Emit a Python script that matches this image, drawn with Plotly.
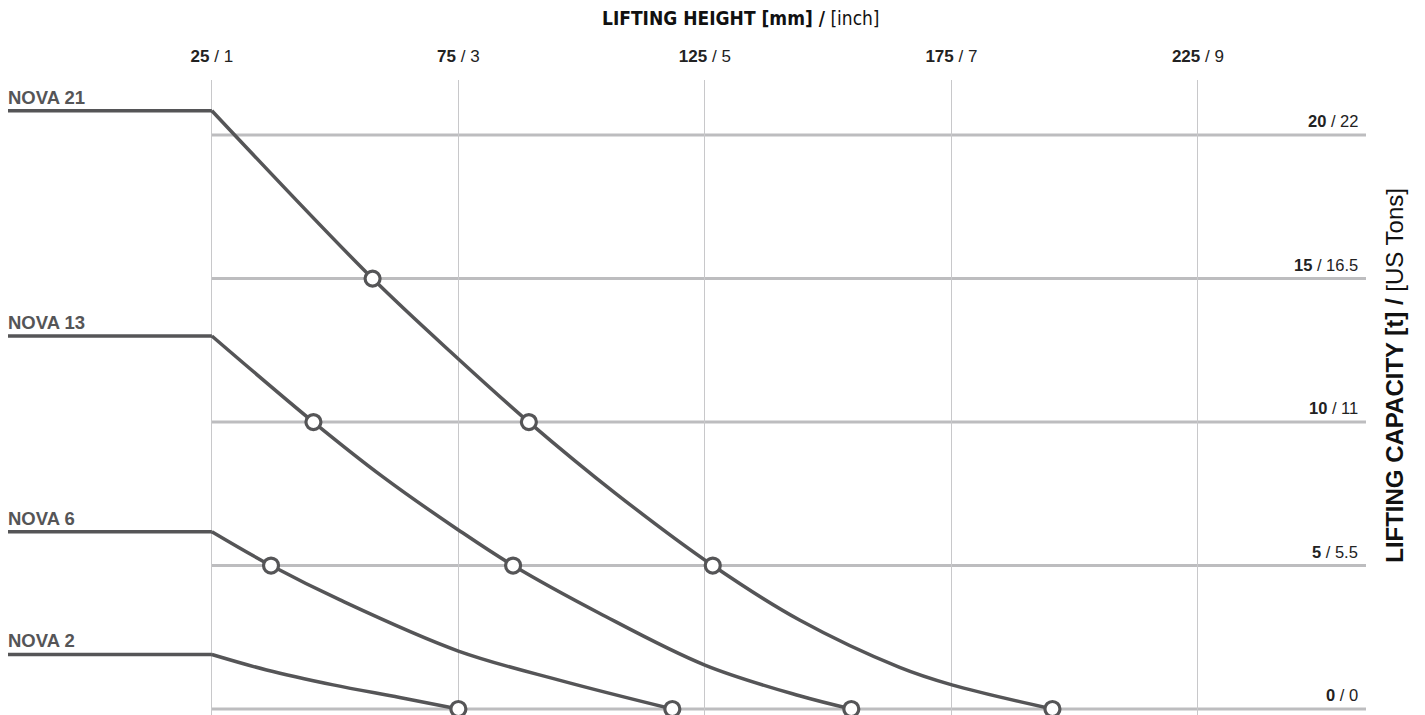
import plotly.graph_objects as go

# ---------------- data ----------------
X_START = -16.35            # left end of the flat load lines [mm]
X_END = 259.1               # right end of the chart area [mm]

HEIGHT_MM = [25, 75, 125, 175, 225]
HEIGHT_INCH = ["1", "3", "5", "7", "9"]

CAPACITY_T = [0, 5, 10, 15, 20]
CAPACITY_US = ["0", "5.5", "11", "16.5", "22"]

NAMES = ["NOVA 21", "NOVA 13", "NOVA 6", "NOVA 2"]
FLAT_LOAD = [20.85, 13.0, 6.18, 1.9]

NOVA21_X = [25, 57.6, 75, 89.3, 107, 126.6, 144.2, 164.5, 175.1, 195.5]
NOVA21_Y = [20.85, 15, 12.2, 10, 7.5, 5, 3.1, 1.45, 0.84, 0]
NOVA21_MX = [57.6, 89.3, 126.6, 195.5]
NOVA21_MY = [15, 10, 5, 0]

NOVA13_X = [25, 45.6, 59.7, 75, 86.1, 103.7, 125, 144.2, 154.7]
NOVA13_Y = [13, 10, 8.09, 6.24, 5, 3.33, 1.53, 0.46, 0]
NOVA13_MX = [45.6, 86.1, 154.7]
NOVA13_MY = [10, 5, 0]

NOVA6_X = [25, 37.0, 51.0, 75, 96, 118.4]
NOVA6_Y = [6.18, 5, 3.8, 2.02, 0.98, 0]
NOVA6_MX = [37.0, 118.4]
NOVA6_MY = [5, 0]

NOVA2_X = [25, 36.1, 49.6, 63.1, 75]
NOVA2_Y = [1.9, 1.36, 0.84, 0.40, 0]
NOVA2_MX = [75]
NOVA2_MY = [0]

CURVES_X = [NOVA21_X, NOVA13_X, NOVA6_X, NOVA2_X]
CURVES_Y = [NOVA21_Y, NOVA13_Y, NOVA6_Y, NOVA2_Y]
MARKS_X = [NOVA21_MX, NOVA13_MX, NOVA6_MX, NOVA2_MX]
MARKS_Y = [NOVA21_MY, NOVA13_MY, NOVA6_MY, NOVA2_MY]

# ---------------- style ----------------
LINE_C = "#555557"
GRID_H = "#bdbdbf"
GRID_V = "#c8c8ca"
FONT = "Liberation Sans, Arial, sans-serif"
FONT_N = "Liberation Sans Narrow, Arial Narrow, DejaVu Sans Condensed, sans-serif"

fig = go.Figure()

for name, h, cx, cy, mx, my in zip(NAMES, FLAT_LOAD, CURVES_X, CURVES_Y, MARKS_X, MARKS_Y):
    fig.add_trace(go.Scatter(
        x=[X_START, cx[0]], y=[h, h], mode="lines",
        line=dict(color=LINE_C, width=3.5), cliponaxis=False, hoverinfo="skip"))
    fig.add_trace(go.Scatter(
        x=cx, y=cy, mode="lines", line=dict(color=LINE_C, width=3.5, shape="spline", smoothing=1),
        cliponaxis=False, hoverinfo="skip"))
    fig.add_trace(go.Scatter(
        x=mx, y=my, mode="markers", cliponaxis=False,
        marker=dict(size=15, color="white", line=dict(color=LINE_C, width=3.2))))
    fig.add_annotation(x=X_START, y=h, xref="x", yref="y", text=f"<b>{name}</b>",
                       showarrow=False, xanchor="left", yanchor="bottom", yshift=1, xshift=-2,
                       font=dict(family=FONT, size=18.5, color=LINE_C))

# horizontal grid lines (capacity)
for t in CAPACITY_T:
    fig.add_shape(type="line", xref="x", yref="y", x0=HEIGHT_MM[0], x1=X_END, y0=t, y1=t,
                  line=dict(color=GRID_H, width=3), layer="below")

# right capacity labels
for t, us in zip(CAPACITY_T, CAPACITY_US):
    fig.add_annotation(x=X_END, y=t, xref="x", yref="y", text=f"<b>{t}</b> / {us}",
                       showarrow=False, xanchor="right", yanchor="bottom", xshift=-6, yshift=3,
                       font=dict(family=FONT, size=16.5, color="#222222"))

# axis titles
fig.add_annotation(xref="paper", yref="paper", x=0.54, y=1, yshift=62, yanchor="middle",
                   text="<b>LIFTING HEIGHT [mm] /</b> [inch]", showarrow=False,
                   font=dict(family=FONT_N, size=19, color="#111111"))
fig.add_annotation(xref="paper", yref="paper", x=1, xshift=44, y=0.535, textangle=-90,
                   text="<b>LIFTING CAPACITY [t] /</b> [US Tons]", showarrow=False,
                   font=dict(family=FONT, size=24, color="#111111"))

fig.update_layout(
    width=1425, height=715,
    margin=dict(l=8, r=59, t=80, b=0),
    paper_bgcolor="white", plot_bgcolor="white",
    showlegend=False,
    xaxis=dict(range=[X_START, X_END], side="top", tickvals=HEIGHT_MM,
               ticktext=[f"<b>{m}</b> / {i}" for m, i in zip(HEIGHT_MM, HEIGHT_INCH)],
               showgrid=True, gridcolor=GRID_V, gridwidth=1, zeroline=False, showline=False,
               ticks="", ticklabelstandoff=14,
               tickfont=dict(family=FONT, size=17, color="#222222")),
    yaxis=dict(range=[-0.209, 21.92], showgrid=False, showticklabels=False, zeroline=False,
               showline=False),
)

fig.write_html("out.html", config={"displayModeBar": False},
               post_script="document.body.style.margin='0';")
